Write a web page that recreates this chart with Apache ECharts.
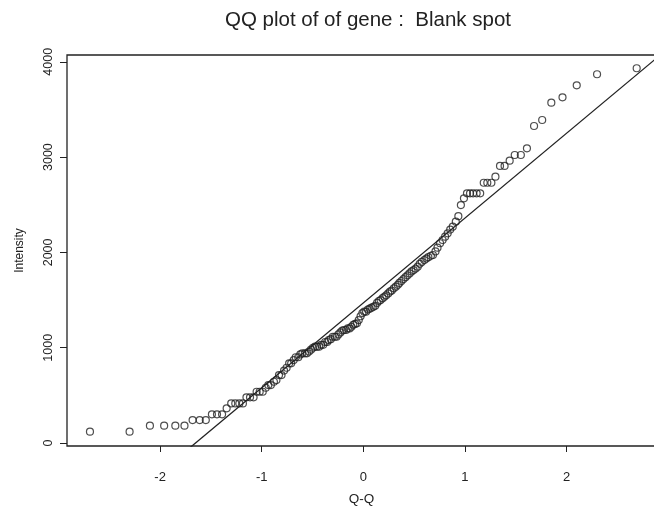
<!DOCTYPE html>
<html lang="en">

<head>
    <meta charset="UTF-8">
    <title>QQ plot</title>
    <script src="https://cdn.jsdelivr.net/npm/echarts@6/dist/echarts.min.js"></script>
</head>

<body style="margin:0;background:#fff;">
    <div id="main" style="width: 654px;height:507px;"></div>

    <script type="text/javascript">
        // theoretical normal quantiles (x) for the 140 sorted spots
        let quantLow = [-2.69, -2.30, -2.10, -1.96, -1.85, -1.76, -1.68, -1.61, -1.55, -1.49,
            -1.44, -1.39, -1.345, -1.30, -1.26, -1.22, -1.185, -1.15, -1.115, -1.08,
            -1.05, -1.02, -0.99, -0.96, -0.935, -0.91, -0.88, -0.855, -0.83, -0.805,
            -0.78, -0.755, -0.73, -0.71, -0.685, -0.665, -0.64, -0.62, -0.60, -0.575,
            -0.555, -0.535, -0.515, -0.495, -0.475, -0.455, -0.435, -0.415, -0.395, -0.375,
            -0.355, -0.34, -0.32, -0.30, -0.28, -0.263, -0.245, -0.225, -0.207, -0.19,
            -0.17, -0.153, -0.135, -0.117, -0.099, -0.081, -0.063, -0.045, -0.027, -0.009];
        let quantHigh = [0.009, 0.027, 0.045, 0.063, 0.081, 0.099, 0.117, 0.135, 0.153, 0.17,
            0.19, 0.207, 0.225, 0.245, 0.263, 0.28, 0.30, 0.32, 0.34, 0.355,
            0.375, 0.395, 0.415, 0.435, 0.455, 0.475, 0.495, 0.515, 0.535, 0.555,
            0.575, 0.60, 0.62, 0.64, 0.665, 0.685, 0.71, 0.73, 0.755, 0.78,
            0.805, 0.83, 0.855, 0.88, 0.91, 0.935, 0.96, 0.99, 1.02, 1.05,
            1.08, 1.115, 1.15, 1.185, 1.22, 1.26, 1.30, 1.345, 1.39, 1.44,
            1.49, 1.55, 1.61, 1.68, 1.76, 1.85, 1.96, 2.10, 2.30, 2.69];

        // sorted intensities
        let intensLow = [119, 119, 182, 182, 182, 182, 241, 241, 241, 301,
            301, 301, 364, 416, 416, 416, 416, 480, 480, 480,
            538, 538, 538, 580, 608, 608, 643, 661, 713, 713,
            760, 790, 836, 836, 870, 900, 900, 930, 941, 941,
            941, 960, 980, 1000, 1011, 1011, 1011, 1030, 1030, 1060,
            1060, 1080, 1090, 1115, 1115, 1115, 1140, 1160, 1180, 1186,
            1186, 1203, 1203, 1220, 1240, 1250, 1256, 1290, 1330, 1364];
        let intensHigh = [1378, 1378, 1400, 1410, 1420, 1430, 1440, 1470, 1490, 1500,
            1520, 1535, 1550, 1570, 1590, 1600, 1623, 1640, 1660, 1680,
            1700, 1720, 1740, 1760, 1780, 1800, 1815, 1830, 1850, 1880,
            1900, 1920, 1935, 1950, 1965, 1973, 2010, 2050, 2096, 2130,
            2165, 2200, 2240, 2270, 2322, 2380, 2497, 2567, 2620, 2620,
            2620, 2620, 2620, 2731, 2731, 2731, 2795, 2907, 2907, 2962,
            3022, 3022, 3092, 3326, 3389, 3571, 3627, 3753, 3869, 3932];

        // reference line (qqline): intercept and slope
        let lineIntercept = 1470;
        let lineSlope = 890;

        let xTicks = [-2, -1, 0, 1, 2];
        let yTicks = [0, 1000, 2000, 3000, 4000];

        let xs = quantLow.concat(quantHigh);
        let ys = intensLow.concat(intensHigh);
        let points = xs.map((x, i) => [x, ys[i]]);
        let linePts = [-3, 3].map(x => [x, lineIntercept + lineSlope * x]);

        let myChart = echarts.init(document.getElementById('main'));
        let font = 'Liberation Sans, Arial, sans-serif';

        let options = {
            backgroundColor: '#fff',
            animation: false,
            title: {
                text: 'QQ plot of of gene :  Blank spot',
                left: 363,
                top: 5,
                textAlign: 'center',
                textStyle: { fontFamily: font, fontSize: 20.5, fontWeight: 'normal', color: '#222' }
            },
            grid: {
                left: 67, top: 55, right: -2, bottom: 61,
                show: true, borderColor: '#222', borderWidth: 1.3,
                containLabel: false,
                outerBoundsMode: 'none'
            },
            xAxis: {
                type: 'value',
                min: -2.916, max: 2.88,
                name: 'Q-Q',
                nameLocation: 'middle',
                nameGap: 46,
                nameTextStyle: { fontFamily: font, fontSize: 13.5, color: '#222' },
                splitLine: { show: false },
                axisLine: { show: false, onZero: false },
                axisTick: { show: true, length: 6, customValues: xTicks, lineStyle: { color: '#222' } },
                axisLabel: { customValues: xTicks, margin: 25, fontFamily: font, fontSize: 13, color: '#222' }
            },
            yAxis: {
                type: 'value',
                min: -31, max: 4071,
                name: 'Intensity',
                nameLocation: 'middle',
                nameGap: 41,
                nameTextStyle: { fontFamily: font, fontSize: 12, color: '#222' },
                splitLine: { show: false },
                axisLine: { show: false, onZero: false },
                axisTick: { show: true, length: 7, customValues: yTicks, lineStyle: { color: '#222' } },
                axisLabel: {
                    customValues: yTicks, rotate: 90, margin: 12,
                    formatter: v => String(v),
                    fontFamily: font, fontSize: 12.5, color: '#222'
                }
            },
            series: [{
                name: 'line',
                type: 'line',
                data: linePts,
                symbol: 'none',
                clip: true,
                lineStyle: { color: '#222', width: 1.3 }
            }, {
                name: 'spots',
                type: 'scatter',
                data: points,
                symbol: 'circle',
                symbolSize: 7,
                itemStyle: { color: 'rgba(255,255,255,0)', borderColor: '#222', borderWidth: 1.2 }
            }]
        };

        myChart.setOption(options);
    </script>
</body>

</html>
